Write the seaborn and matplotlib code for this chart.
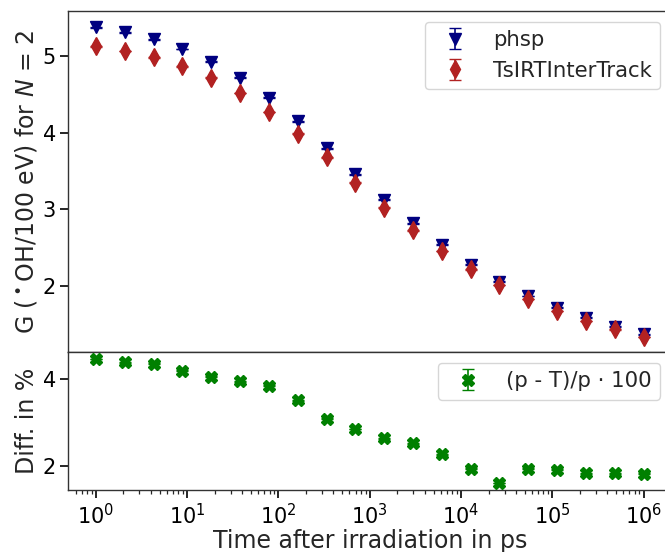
import matplotlib
matplotlib.use("Agg")
import matplotlib.pyplot as plt
import seaborn as sns
import pandas as pd

# ---- data ----
time_ps = [1.0, 2.07, 4.28, 8.86, 18.3, 37.9, 78.5, 162.0, 336.0, 695.0,
           1438.0, 2976.0, 6158.0, 12743.0, 26367.0, 54556.0, 112884.0,
           233572.0, 483293.0, 1.0e6]
g_phsp = [5.378, 5.313, 5.22, 5.094, 4.93, 4.72, 4.46, 4.15, 3.80, 3.458,
          3.13, 2.82, 2.54, 2.28, 2.06, 1.87, 1.72, 1.59, 1.47, 1.37]
g_tsirt = [5.13, 5.07, 4.985, 4.87, 4.72, 4.52, 4.27, 3.99, 3.68, 3.35,
           3.025, 2.726, 2.46, 2.22, 2.015, 1.83, 1.675, 1.545, 1.435, 1.335]
diff_pct = [4.46, 4.38, 4.35, 4.19, 4.05, 3.95, 3.85, 3.51, 3.09, 2.85,
            2.64, 2.52, 2.27, 1.94, 1.61, 1.94, 1.92, 1.83, 1.83, 1.82]
err_phsp = [0.004, 0.004, 0.004, 0.004, 0.004, 0.004, 0.004, 0.004, 0.004, 0.004,
            0.004, 0.004, 0.004, 0.004, 0.004, 0.004, 0.004, 0.004, 0.004, 0.004]
err_tsirt = [0.004, 0.004, 0.004, 0.004, 0.004, 0.004, 0.004, 0.004, 0.004, 0.004,
             0.004, 0.004, 0.004, 0.004, 0.004, 0.004, 0.004, 0.004, 0.004, 0.004]
err_diff = [0.01, 0.01, 0.01, 0.01, 0.01, 0.01, 0.01, 0.01, 0.01, 0.01,
            0.01, 0.01, 0.01, 0.01, 0.01, 0.01, 0.01, 0.01, 0.01, 0.01]

labels = ["phsp", "TsIRTInterTrack", "(p - T)/p · 100"]
top_yticks = [2, 3, 4, 5]
bottom_yticks = [2, 4]

df = pd.DataFrame({"t": time_ps, "phsp": g_phsp, "tsirt": g_tsirt, "diff": diff_pct})

sns.set_style("ticks")
plt.rcParams["font.family"] = ["DejaVu Sans"]

fig = plt.figure(figsize=(6.65, 5.52), dpi=100)
ax1 = fig.add_axes([0.103, 0.3623, 0.906, 0.6177])
ax2 = fig.add_axes([0.103, 0.1123, 0.906, 0.25], sharex=ax1)

navy = "#000080"
red = "#b22222"
green = "#008000"
ms = 9

sns.scatterplot(data=df, x="t", y="phsp", ax=ax1, marker="v", s=ms**2,
                color=navy, edgecolor=navy, linewidth=0, legend=False, zorder=3)
ax1.errorbar(time_ps, g_phsp, yerr=err_phsp, fmt="v", ms=ms, color=navy,
             capsize=4, elinewidth=1.2, label=labels[0], zorder=3)
sns.scatterplot(data=df, x="t", y="tsirt", ax=ax1, marker="d", s=ms**2,
                color=red, edgecolor=red, linewidth=0, legend=False, zorder=4)
ax1.errorbar(time_ps, g_tsirt, yerr=err_tsirt, fmt="d", ms=ms, color=red,
             capsize=4, elinewidth=1.2, label=labels[1], zorder=4)

sns.scatterplot(data=df, x="t", y="diff", ax=ax2, marker="X", s=ms**2,
                color=green, edgecolor=green, linewidth=0, legend=False, zorder=3)
ax2.errorbar(time_ps, diff_pct, yerr=err_diff, fmt="X", ms=ms, color=green,
             capsize=4, elinewidth=1.2, label=labels[2], zorder=3)

ax1.set_xscale("log")
ax1.set_xlim(10 ** -0.3, 10 ** 6.3)
ax1.set_ylim(1.14, 5.59)
ax2.set_ylim(1.45, 4.62)
ax1.set_yticks(top_yticks)
ax2.set_yticks(bottom_yticks)
ax1.tick_params(axis="x", labelbottom=False)

for ax in (ax1, ax2):
    for sp in ax.spines.values():
        sp.set_visible(True)
        sp.set_color("#333333")
        sp.set_linewidth(1.0)
    ax.tick_params(axis="both", which="major", labelsize=15, length=6, width=1.2,
                   colors="black", pad=3)
    ax.tick_params(axis="both", which="minor", length=3, width=0.9)
    ax.set_xlabel("")
    ax.set_ylabel("")

ax1.set_ylabel(r"G ($^\bullet$OH/100 eV) for $N$ = 2", fontsize=17, labelpad=3)
ax2.set_ylabel("Diff. in %", fontsize=17, labelpad=3)
ax2.set_xlabel("Time after irradiation in ps", fontsize=17, labelpad=1)

ax1.legend(loc="upper right", fontsize=15.3)
ax2.legend(loc="upper right", fontsize=15.3)

fig.savefig("out.png", dpi=100)
